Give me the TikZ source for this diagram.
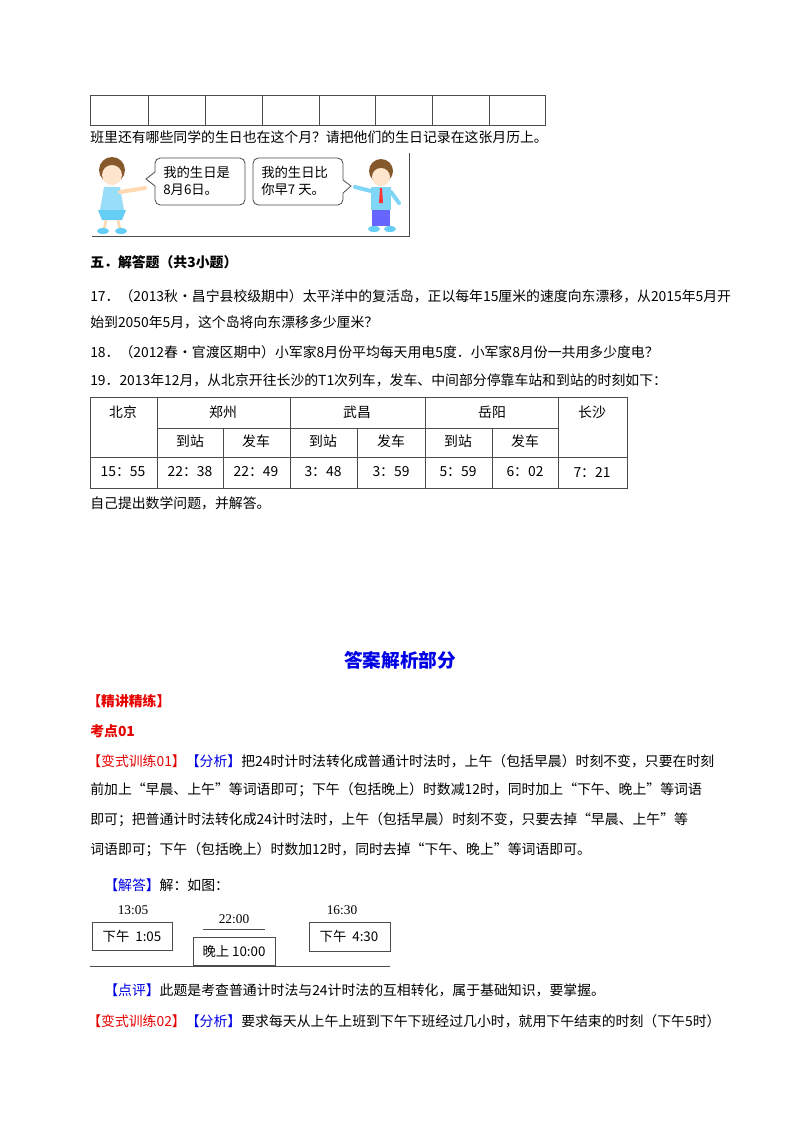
\documentclass[tikz,border=0pt]{standalone}
\usepackage{fontspec}
\setmainfont{Liberation Serif}
\newfontfamily\cjk{Noto Sans CJK SC}
\definecolor{myred}{RGB}{230,0,0}
\definecolor{myblue}{RGB}{0,0,230}
\begin{document}
\begin{tikzpicture}[x=0.75pt,y=-0.75pt,
  txt/.style={anchor=west,inner sep=0,font=\cjk\fontsize{10.4}{12}\selectfont},
  ctr/.style={inner sep=0,font=\cjk\fontsize{10.4}{12}\selectfont},
  thin/.style={draw=black!70,line width=0.5pt},
  bub/.style={draw=black!70,rounded corners=4pt,line width=0.6pt}]
\useasboundingbox (0,0) rectangle (800,1132);
\fill[white] (0,0) rectangle (800,1132);
% top calendar row
\draw[thin] (90,95) rectangle (545,125);
\foreach \x in {148,205,262,319,375,432,489} \draw[thin] (\x,95) -- (\x,125);
\node[txt] (t1) at (90,137) {班里还有哪些同学的生日也在这个月？请把他们的生日记录在这张月历上。};
% picture
\draw[thin] (92,236) -- (409,236) -- (409,153);
\draw[bub] (155,158) rectangle (245,205);
\node[txt,align=left,font=\cjk\fontsize{10}{13}\selectfont] (s1) at (163,181) {我的生日是\\8月6日。};
\draw[bub] (253,158) rectangle (343,205);
\node[txt,align=left,font=\cjk\fontsize{10}{13}\selectfont] (s2) at (261,181) {我的生日比\\你早7 天。};
\fill[white] (154,172) rectangle (157,186);
\draw[black!70,line width=0.6pt] (155,172) -- (146,179) -- (155,186);
\fill[white] (342,180) rectangle (345,193);
\draw[black!70,line width=0.6pt] (343,180) -- (351,186) -- (343,193);
% girl
\fill[brown!70!black] (112,170) circle (13);
\fill[orange!20] (112,175) circle (10);
\fill[cyan!40] (104,187) -- (120,187) -- (124,210) -- (100,210) -- cycle;
\fill[cyan!60] (98,210) -- (126,210) -- (122,220) -- (102,220) -- cycle;
\draw[orange!30,line width=3pt,line cap=round] (120,192) -- (145,188);
\draw[orange!30,line width=2pt] (106,220) -- (104,230) (118,220) -- (120,230);
\fill[cyan!60] (103,231) ellipse (6 and 3) (121,231) ellipse (6 and 3);
% boy
\fill[brown!70!black] (381,171) circle (12);
\fill[orange!20] (381,177) circle (9);
\fill[cyan!50] (371,187) rectangle (391,210);
\fill[red!80] (380,188) -- (382,188) -- (383,203) -- (379,203) -- cycle;
\draw[cyan!50,line width=3pt,line cap=round] (371,191) -- (355,187) (391,192) -- (399,203);
\fill[blue!60] (372,210) rectangle (390,226);
\fill[cyan!60] (374,229) ellipse (6 and 3) (390,229) ellipse (6 and 3);
% section 5
\node[txt,font=\cjk\bfseries\fontsize{10.4}{12}\selectfont] at (90,262) {五．解答题（共3小题）};
\node[txt] at (90,296) {17．（2013秋•昌宁县校级期中）太平洋中的复活岛，正以每年15厘米的速度向东漂移，从2015年5月开};
\node[txt] at (90,322) {始到2050年5月，这个岛将向东漂移多少厘米？};
\node[txt] at (90,352) {18．（2012春•官渡区期中）小军家8月份平均每天用电5度．小军家8月份一共用多少度电？};
\node[txt] at (90,380) {19．2013年12月，从北京开往长沙的\textit{T}1次列车，发车、中间部分停靠车站和到站的时刻如下：};
% table
\draw[thin] (90,397) rectangle (627,488);
\draw[thin] (90,457) -- (627,457);
\draw[thin] (157,428) -- (558,428);
\foreach \x in {157,290,425,558} \draw[thin] (\x,397) -- (\x,488);
\foreach \x in {223,357,492} \draw[thin] (\x,428) -- (\x,488);
\node[ctr] at (123,412) {北京};
\node[ctr] at (223,412) {郑州};
\node[ctr] at (357,412) {武昌};
\node[ctr] at (492,412) {岳阳};
\node[ctr] at (592,412) {长沙};
\foreach \x/\s in {190/到站,256/发车,323/到站,391/发车,458/到站,525/发车} \node[ctr] at (\x,441) {\s};
\foreach \x/\s in {123/15：55,190/22：38,256/22：49,323/3：48,391/3：59,458/5：59,525/6：02,592/7：21} \node[ctr] at (\x,472) {\s};
\node[txt] at (90,503) {自己提出数学问题，并解答。};
% answers
\node[ctr,font=\cjk\bfseries\fontsize{14}{16}\selectfont,text=myblue] at (400,660) {答案解析部分};
\node[txt,text=myred,font=\cjk\bfseries\fontsize{10.4}{12}\selectfont] at (87,701) {【精讲精练】};
\node[txt,text=myred,font=\cjk\bfseries\fontsize{10.4}{12}\selectfont] at (90,731) {考点01};
\node[txt] at (87,761) {\textcolor{myred}{【变式训练01】}\textcolor{myblue}{【分析】}把24时计时法转化成普通计时法时，上午（包括早晨）时刻不变，只要在时刻};
\node[txt] at (90,790) {前加上“早晨、上午”等词语即可；下午（包括晚上）时数减12时，同时加上“下午、晚上”等词语};
\node[txt] at (90,820) {即可；把普通计时法转化成24计时法时，上午（包括早晨）时刻不变，只要去掉“早晨、上午”等};
\node[txt] at (90,850) {词语即可；下午（包括晚上）时数加12时，同时去掉“下午、晚上”等词语即可。};
\node[txt] at (104,885) {\textcolor{myblue}{【解答】}解：如图：};
% figure
\node[ctr,font=\fontsize{10}{12}\selectfont] at (133,910) {13:05};
\draw[thin] (92,922) rectangle (172,950);
\node[ctr,font=\cjk\fontsize{10}{12}\selectfont] (c1) at (132,936) {下午\ \ 1:05};
\node[ctr,font=\fontsize{10}{12}\selectfont] at (234,919) {22:00};
\draw[thin] (203,929) -- (265,929);
\draw[thin] (193,937) rectangle (275,965);
\node[ctr,font=\cjk\fontsize{10}{12}\selectfont] (c2) at (234,951) {晚上\ 10:00};
\node[ctr,font=\fontsize{10}{12}\selectfont] at (342,910) {16:30};
\draw[thin] (309,922) rectangle (390,951);
\node[ctr,font=\cjk\fontsize{10}{12}\selectfont] (c3) at (349,936) {下午\ \ 4:30};
\draw[thin] (90,966) -- (390,966);
\node[txt] at (104,990) {\textcolor{myblue}{【点评】}此题是考查普通计时法与24计时法的互相转化，属于基础知识，要掌握。};
\node[txt] at (87,1021) {\textcolor{myred}{【变式训练02】}\textcolor{myblue}{【分析】}要求每天从上午上班到下午下班经过几小时，就用下午结束的时刻（下午5时）};
\end{tikzpicture}
\end{document}
